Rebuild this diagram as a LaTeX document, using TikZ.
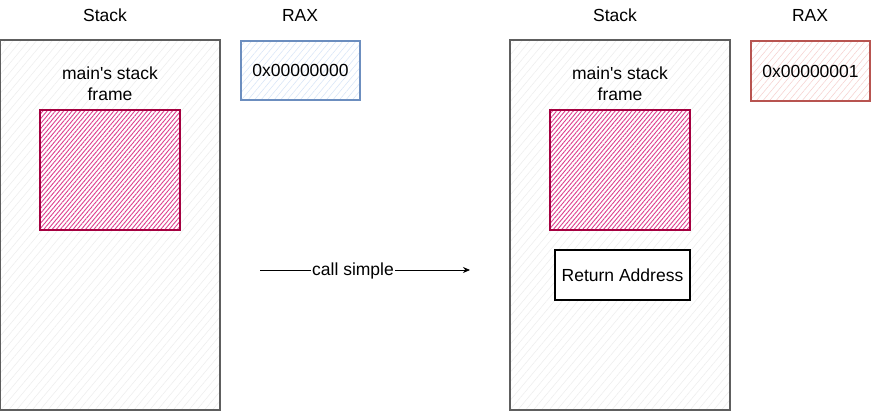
\documentclass[tikz,border=0pt]{standalone}
\usepackage{fontspec}
\setmainfont{Liberation Sans}[Ligatures=TeXOff]
\usetikzlibrary{patterns.meta,arrows.meta}
\definecolor{stackline}{HTML}{5E5E5E}
\definecolor{stackhatch}{HTML}{EDEDED}
\definecolor{framestroke}{HTML}{A50040}
\definecolor{framehatch}{HTML}{DE3F8E}
\definecolor{bluestroke}{HTML}{6C8EBF}
\definecolor{bluehatch}{HTML}{D6E4F7}
\definecolor{redstroke}{HTML}{B85450}
\definecolor{redhatch}{HTML}{F6CFCD}
\tikzset{
  x=1pt, y=-1pt,
  txt/.style={font=\fontsize{17.5}{21}\selectfont, inner sep=0pt, align=center},
  stackbox/.style={draw=stackline, line width=1.1pt, preaction={fill=white},
    preaction={pattern={Lines[angle=50,distance=6pt,line width=0.5pt]}, pattern color=stackhatch}},
  framebox/.style={draw=framestroke, line width=1.2pt, preaction={fill=white},
    preaction={pattern={Lines[angle=50,distance=3.2pt,line width=0.9pt]}, pattern color=framehatch}},
  bluebox/.style={draw=bluestroke, line width=1.2pt, preaction={fill=white},
    preaction={pattern={Lines[angle=50,distance=5pt,line width=0.5pt]}, pattern color=bluehatch}},
  redbox/.style={draw=redstroke, line width=1.2pt, preaction={fill=white},
    preaction={pattern={Lines[angle=50,distance=5pt,line width=0.5pt]}, pattern color=redhatch}},
  retbox/.style={draw=black, line width=1.3pt, fill=white},
  conn/.style={-{Stealth[length=7pt,width=6pt]}, line width=0.8pt}
}
\begin{document}
\begin{tikzpicture}
\useasboundingbox (0,0) rectangle (871,411);
% left state
\node[txt] (stackL) at (105,15) {Stack};
\node[txt] (raxL) at (300,15) {RAX};
\draw[stackbox] (0.5,40) rectangle (220,410);
\node[txt] (mainL) at (110,84) {main's stack\\frame};
\draw[framebox] (40,110) rectangle (180,230);
\draw[bluebox] (241,41) rectangle (360,100);
\node[txt] (valL) at (300.5,70.5) {0x00000000};
% arrow
\coordinate (arrS) at (260,270);
\coordinate (arrE) at (470,270);
\draw[conn] (arrS) -- (arrE);
\node[txt, fill=white, inner xsep=1pt] (call) at (353,271) {call simple};
% right state
\node[txt] (stackR) at (615,15) {Stack};
\node[txt] (raxR) at (810,15) {RAX};
\draw[stackbox] (510,40) rectangle (730,410);
\node[txt] (mainR) at (620,84) {main's stack\\frame};
\draw[framebox] (550,110) rectangle (690,230);
\node[retbox, minimum width=135pt, minimum height=50pt, inner sep=0pt, font=\fontsize{17.5}{21}\selectfont] (ret) at (622.5,275) {Return Address};
\draw[redbox] (751,41) rectangle (870,101);
\node[txt] (valR) at (810.5,71) {0x00000001};
\end{tikzpicture}
\end{document}
